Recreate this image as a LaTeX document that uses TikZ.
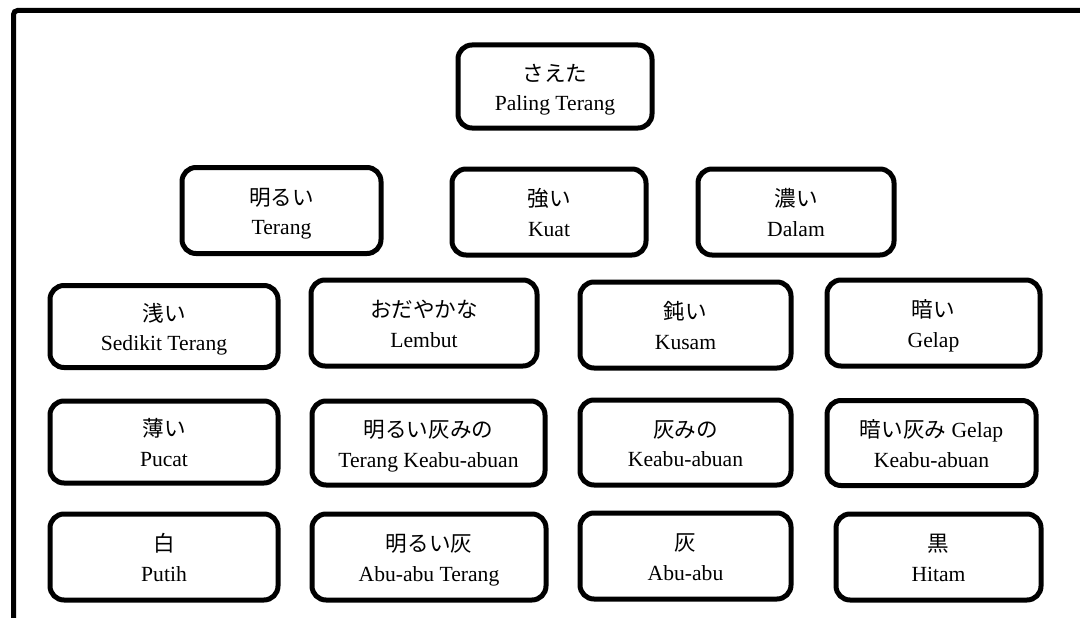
\documentclass[tikz,border=0pt]{standalone}
\usepackage{fontspec}
\setmainfont{Liberation Serif}
\newfontfamily\jp{Noto Sans CJK JP}
\newcommand\lbl[2]{\raisebox{-2.6pt}[\height][\depth]{\begin{tabular}{@{}c@{}}#1\\#2\end{tabular}}}
\tikzset{
  cbox/.style={draw, line width=3.75pt, rounded corners=10.5pt, align=center,
    inner sep=0pt, font=\fontsize{16.2}{22}\selectfont},
  r0/.style={minimum height=62.25pt},
  rr/.style={minimum height=64.5pt},
  frame/.style={line width=3.75pt, rounded corners=3pt}
}
\begin{document}
\begin{tikzpicture}[x=0.75pt, y=-0.75pt]
\useasboundingbox (0,0) rectangle (1080,617);
\clip (0,0) rectangle (1080,617);
\renewcommand\arraystretch{1}
\coordinate (fa) at (1100,10.5);
\coordinate (fb) at (13.5,10.5);
\coordinate (fc) at (13.5,640);
\draw[frame] (fa) -- (fb) -- (fc);
% row 0
\node[cbox, r0, minimum width=145.5pt] (saeta) at (555,86.5) {\lbl{\jp さえた}{Paling Terang}};
% row 1
\node[cbox, rr, minimum width=149.25pt] (akarui) at (281.5,210.5) {\lbl{\jp 明るい}{Terang}};
\node[cbox, rr, minimum width=145.5pt] (tsuyoi) at (549,212) {\lbl{\jp 強い}{Kuat}};
\node[cbox, rr, minimum width=147pt] (koi) at (796,212) {\lbl{\jp 濃い}{Dalam}};
% row 2
\node[cbox, minimum height=61.5pt, minimum width=171pt] (asai) at (164,326.5) {\lbl{\jp 浅い}{Sedikit Terang}};
\node[cbox, rr, minimum width=169.5pt] (odayaka) at (424,323) {\lbl{\jp おだやかな}{Lembut}};
\node[cbox, rr, minimum width=158.25pt] (nibui) at (685.5,325) {\lbl{\jp 鈍い}{Kusam}};
\node[cbox, rr, minimum width=159.75pt] (kurai) at (933.5,323) {\lbl{\jp 暗い}{Gelap}};
% row 3
\node[cbox, minimum height=61.5pt, minimum width=171pt] (usui) at (164,442) {\lbl{\jp 薄い}{Pucat}};
\node[cbox, minimum height=63pt, minimum width=174.75pt] (akaruihaimi) at (428.5,443) {\lbl{\jp 明るい灰みの}{Terang Keabu-abuan}};
\node[cbox, minimum height=63.75pt, minimum width=158.25pt] (haimi) at (685.5,442.5) {\lbl{\jp 灰みの}{Keabu-abuan}};
\node[cbox, minimum height=63.75pt, minimum width=156.75pt] (kuraihaimi) at (931.5,443) {\lbl{{\jp 暗い灰み} Gelap}{Keabu-abuan}};
% row 4
\node[cbox, rr, minimum width=171pt] (shiro) at (164,557) {\lbl{\jp 白}{Putih}};
\node[cbox, rr, minimum width=175.5pt] (akaruihai) at (429,557) {\lbl{\jp 明るい灰}{Abu-abu Terang}};
\node[cbox, rr, minimum width=158.25pt] (hai) at (685.5,556) {\lbl{\jp 灰}{Abu-abu}};
\node[cbox, rr, minimum width=153.75pt] (kuro) at (938.5,557) {\lbl{\jp 黒}{Hitam}};
\end{tikzpicture}
\end{document}
